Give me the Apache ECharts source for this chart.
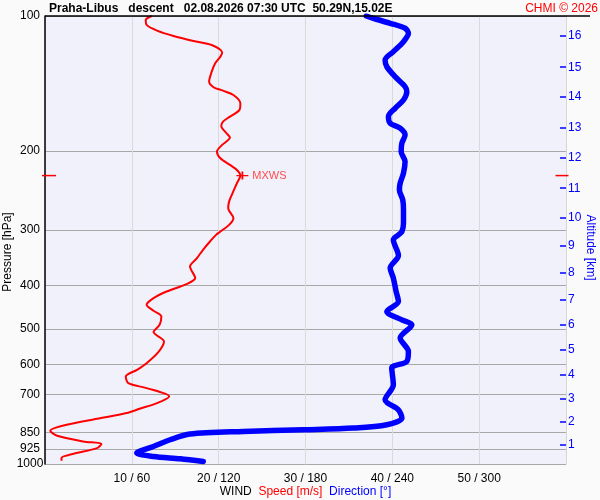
<!DOCTYPE html>
<html>
<head>
<meta charset="utf-8">
<script src="https://cdn.jsdelivr.net/npm/echarts@6.0.0/dist/echarts.min.js"></script>
<style>
html,body{margin:0;padding:0;background:#fafafa;}
#chart{width:600px;height:500px;}
</style>
</head>
<body>
<div id="chart"></div>
<script>
// Wind speed profile [m/s] vs pressure [hPa]
const speedPressure = [100,102.1,104.7,107.8,110.8,113.7,116.1,120.7,123.2,127.5,133.1,140.1,144.2,146.8,150.1,156.6,162.0,167.7,172.1,176.0,182.7,186.8,194.0,200.8,207.7,215.0,220.6,227.1,236.2,248.6,259.6,268.5,282.7,292.6,302.8,308.0,318.7,332.6,347.1,362.4,384.6,396.7,412.1,426.3,441.2,455.0,468.5,489.0,507.7,532.8,561.0,595.5,616.3,637.9,659.9,677.0,706.8,731.2,752.9,769.7,792.6,817.4,843.0,865.0,890.6,902.7,921.4,948.8,969.7,983.2];
const speedValues = [12.3,11.6,11.7,12.9,14.8,17.1,19.2,20.4,20.2,19.6,19.2,18.9,19.4,20.5,21.7,22.5,22.4,21.3,20.5,20.3,20.9,21.3,20.4,19.8,20.2,21.3,22.1,22.5,22.1,21.6,21.2,21.1,21.7,21.2,20.2,19.7,19.0,18.2,17.5,16.7,17.3,16.3,14.0,12.5,11.7,12.5,13.4,13.2,12.5,13.7,13.1,11.7,10.6,9.3,9.6,11.7,14.3,12.9,10.9,9.4,6.0,2.5,0.6,1.4,4.4,6.5,6.0,3.3,1.9,1.9];

// Wind direction profile [deg] vs pressure [hPa]
const dirPressure = [100,101.2,103.8,106.5,109.3,114.1,120.1,125.3,129.8,136.6,143.8,147.6,154.0,160.7,167.7,173.5,178.0,184.3,192.3,200.8,211.3,224.3,236.2,244.5,257.3,270.9,290.1,302.8,308.0,316.0,342.4,365.4,384.6,412.1,433.8,456.7,476.6,489.0,523.6,561.0,590.4,610.9,665.7,718.9,756.8,789.7,817.4,831.4,838.7,846.0,857.5,882.9,913.8,945.4,961.9,973.4,986.7];
const dirValues = [222,226.9,238.5,248.8,251.1,247.7,240.7,235.0,236.2,241.9,248.8,250.0,247.7,241.9,237.3,238.5,245.4,248.8,246.6,246.1,248.8,247.7,245.4,244.9,247.2,247.7,247.7,246.6,244.2,240.7,244.2,238.5,240.7,242.6,244.2,236.2,246.6,253.5,245.4,251.1,250.0,239.6,240.7,235.0,244.2,246.6,236.2,213.1,178.5,137.1,100.2,86.4,74.9,63.4,74.9,93.3,109.4];

// Maximum wind
const maxWindSpeed = 22.5;
const maxWindPressure = 227.1;

// Tick labels
const pressureTicks = [100,200,300,400,500,600,700,850,925,1000];
const speedTicks = [10,20,30,40,50];
const altitudeKm = [1,2,3,4,5,6,7,8,9,10,11,12,13,14,15,16];
const altitudePressure = [907.0,805.9,714.0,633.2,556.9,488.2,430.0,373.8,325.3,282.2,242.3,207.4,177.5,151.5,130.1,110.6];

const FONT = 'Liberation Sans, Arial, sans-serif';
const chart = echarts.init(document.getElementById('chart'), null, {renderer:'canvas'});

const option = {
  backgroundColor: '#fafafa',
  animation: false,
  textStyle: {fontFamily: FONT},
  title: [{
    text: 'Praha-Libus   descent   02.08.2026 07:30 UTC  50.29N,15.02E',
    left: 49, top: 2, padding: 0,
    textStyle: {fontFamily: FONT, fontSize: 12, fontWeight: 'bold', color: '#000', lineHeight: 14}
  },{
    text: 'CHMI \u00A9 2026',
    right: 2, top: 2, padding: 0,
    textStyle: {fontFamily: FONT, fontSize: 12, fontWeight: 'normal', color: '#ff0000', lineHeight: 14}
  }],
  grid: {left: 45, right: 34, top: 16, bottom: 36, show: true, backgroundColor: '#f1f1fc', borderWidth: 0,
    containLabel: false, outerBoundsMode: 'none'},
  xAxis: [{
    type: 'value', min: 0, max: 60, interval: 10, position: 'bottom',
    axisLine: {show: false, onZero: false}, axisTick: {show: false},
    axisLabel: {
      fontFamily: FONT, fontSize: 12, color: '#000', margin: 9,
      formatter: v => speedTicks.indexOf(v) >= 0 ? (v + ' / ' + v * 6) : ''
    },
    splitLine: {show: true, lineStyle: {color: '#dadada', width: 1}},
    name: '{k|WIND}  {r|Speed [m/s]}  {b|Direction [\u00B0]}',
    nameLocation: 'middle', nameGap: 22, nameMoveOverlap: false,
    nameTextStyle: {
      fontFamily: FONT, fontSize: 12,
      rich: {
        k: {color: '#000', fontFamily: FONT, fontSize: 12},
        r: {color: '#ff0000', fontFamily: FONT, fontSize: 12},
        b: {color: '#0000ff', fontFamily: FONT, fontSize: 12}
      }
    }
  },{
    type: 'value', min: 0, max: 360, position: 'top', show: false,
    axisLine: {onZero: false}
  }],
  yAxis: [{
    type: 'log', logBase: 10, min: 100, max: 1000, inverse: true, position: 'left',
    axisLine: {show: true, onZero: false, lineStyle: {color: '#000', width: 1.5}},
    axisTick: {show: false, customValues: pressureTicks},
    axisLabel: {customValues: pressureTicks, fontFamily: FONT, fontSize: 12, color: '#000', align: 'center', margin: 15,
      formatter: v => String(Math.round(v))},
    splitLine: {show: true, lineStyle: {color: '#a8a8a8', width: 1}},
    name: 'Pressure [hPa]', nameLocation: 'middle', nameGap: 31, nameRotate: 90, nameMoveOverlap: false,
    nameTextStyle: {fontFamily: FONT, fontSize: 12, color: '#000', padding: [0, 24, 0, 0]}
  },{
    type: 'log', logBase: 10, min: 100, max: 1000, inverse: true, position: 'right',
    axisLine: {show: true, onZero: false, lineStyle: {color: '#d6d6d6', width: 1}},
    axisTick: {show: true, inside: true, length: 6, customValues: altitudePressure, lineStyle: {color: '#0000ff', width: 1.5}},
    axisLabel: {customValues: altitudePressure, fontFamily: FONT, fontSize: 12, color: '#0000ff', margin: 2,
      formatter: v => {
        let best = 0, bd = Infinity;
        altitudePressure.forEach((p, i) => { const d = Math.abs(p - v); if (d < bd) { bd = d; best = i; } });
        return String(altitudeKm[best]);
      }},
    splitLine: {show: false},
    name: 'Altitude [km]', nameLocation: 'middle', nameGap: 18, nameRotate: -90, nameMoveOverlap: false,
    nameTextStyle: {fontFamily: FONT, fontSize: 12, color: '#0000ff', padding: [0, 0, 0, 15]}
  }],
  graphic: [{
    type: 'line', shape: {x1: 45, y1: 16, x2: 590, y2: 16},
    style: {stroke: '#000', lineWidth: 1.5}, z: 100
  }],
  series: [{
    type: 'line', name: 'Speed', xAxisIndex: 0, yAxisIndex: 0,
    data: speedValues.map((s, i) => [s, speedPressure[i]]),
    showSymbol: false, smooth: 0.3,
    lineStyle: {color: '#ff0000', width: 2},
    itemStyle: {color: '#ff0000'},
    z: 3,
    markPoint: {
      silent: true,
      data: [{
        coord: [maxWindSpeed, maxWindPressure],
        symbol: 'path://M0,5L10,5M5,1L5,9', symbolSize: [12, 8], symbolOffset: [2, 0],
        itemStyle: {color: 'rgba(0,0,0,0)', borderColor: '#ff0000', borderWidth: 1.5},
        label: {show: true, position: 'right', distance: 3, formatter: 'MXWS', color: '#ff4d4d', fontFamily: FONT, fontSize: 11}
      },{
        coord: [0, maxWindPressure],
        symbol: 'rect', symbolSize: [14, 1.5], symbolOffset: [4, 0],
        itemStyle: {color: '#ff0000'}, label: {show: false}
      },{
        coord: [60, maxWindPressure],
        symbol: 'rect', symbolSize: [13, 1.5], symbolOffset: [-4, 0],
        itemStyle: {color: '#ff0000'}, label: {show: false}
      }]
    }
  },{
    type: 'line', name: 'Direction', xAxisIndex: 1, yAxisIndex: 0,
    data: dirValues.map((d, i) => [d, dirPressure[i]]),
    showSymbol: false, smooth: 0.3,
    lineStyle: {color: '#0000ff', width: 5.5, cap: 'round', join: 'round'},
    itemStyle: {color: '#0000ff'},
    z: 4
  }]
};
chart.setOption(option);
</script>
</body>
</html>
